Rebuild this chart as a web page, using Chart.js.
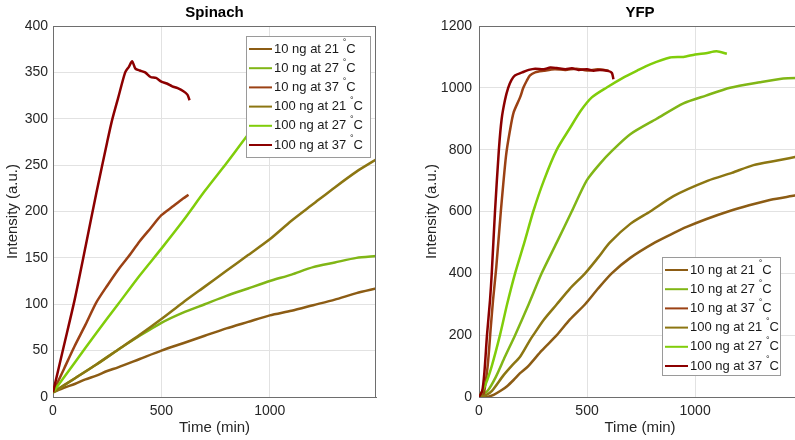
<!DOCTYPE html>
<html>
<head>
<meta charset="utf-8">
<script src="https://cdn.jsdelivr.net/npm/chart.js@4/dist/chart.umd.min.js"></script>
<style>
  html, body { margin: 0; padding: 0; background: #fff; overflow: hidden; width: 795px; height: 440px; }
  .box { position: absolute; top: 0; height: 440px; }
  #left { left: 0; width: 400px; }
  #right { left: 400px; width: 410px; }
</style>
</head>
<body>
<div class="box" id="left"><canvas id="spinach"></canvas></div>
<div class="box" id="right"><canvas id="yfp"></canvas></div>
<script>
// legend labels, same for both panels
const labels = ['10 ng at 21 °C', '10 ng at 27 °C', '10 ng at 37 °C', '100 ng at 21 °C', '100 ng at 27 °C', '100 ng at 37 °C'];
const colors = ['rgb(140,92,20)', 'rgb(128,182,22)', 'rgb(155,65,20)', 'rgb(140,118,18)', 'rgb(128,205,10)', 'rgb(140,0,0)'];
const xTicks = [0, 500, 1000];

// Spinach - time (min) / intensity (a.u.)
const spT10_21 = [0, 50, 100, 150, 200, 250, 300, 400, 500, 600, 700, 800, 900, 1000, 1100, 1200, 1300, 1400, 1490];
const spV10_21 = [5, 10, 14, 19, 23, 28, 32, 41, 50, 58, 66, 74, 81, 88, 93, 99, 105, 112, 117];
const spT10_27 = [0, 100, 200, 300, 400, 500, 600, 700, 800, 900, 1000, 1100, 1200, 1300, 1400, 1490];
const spV10_27 = [5, 20, 35, 51, 66, 80, 91, 100, 109, 117, 125, 132, 140, 145, 150, 152];
const spT10_37 = [0, 50, 100, 150, 200, 250, 300, 350, 400, 450, 500, 550, 600, 625];
const spV10_37 = [5, 30, 55, 78, 102, 120, 137, 152, 168, 182, 196, 205, 214, 218];
const spT100_21 = [0, 100, 200, 300, 400, 500, 600, 700, 800, 900, 1000, 1100, 1200, 1300, 1400, 1490];
const spV100_21 = [5, 20, 35, 51, 67, 84, 102, 119, 136, 153, 170, 190, 208, 226, 243, 256];
const spT100_27 = [0, 100, 200, 300, 400, 500, 600, 700, 800, 900, 1000, 1100];
const spV100_27 = [5, 37, 69, 100, 131, 160, 190, 222, 252, 283, 312, 340];
const spT100_37 = [0, 50, 100, 150, 200, 250, 272, 300, 333, 350, 365, 380, 400, 425, 450, 475, 500, 525, 550, 575, 600, 620, 630];
const spV100_37 = [5, 55, 105, 162, 220, 275, 298, 322, 350, 356, 362, 354, 352, 350, 345, 344, 340, 338, 335, 333, 330, 326, 320];

// YFP
const yfT10_21 = [0, 36, 70, 100, 130, 160, 190, 228, 290, 360, 420, 491, 550, 614, 700, 815, 900, 961, 1050, 1153, 1250, 1350, 1447, 1490];
const yfV10_21 = [0, 0, 8, 20, 35, 55, 77, 100, 150, 200, 250, 300, 350, 400, 450, 500, 530, 550, 575, 600, 620, 638, 650, 655];
const yfT10_27 = [0, 40, 78, 120, 167, 230, 290, 360, 429, 498, 560, 621, 700, 822, 946, 1050, 1162, 1300, 1408, 1490];
const yfV10_27 = [0, 20, 65, 130, 200, 300, 400, 500, 600, 700, 755, 800, 850, 900, 950, 975, 1000, 1018, 1030, 1032];
const yfT10_37 = [0, 20, 40, 55, 65, 80, 101, 125, 143, 160, 190, 205, 221, 236, 260, 300, 350, 400, 450, 500, 550, 600];
const yfV10_37 = [0, 5, 100, 230, 313, 420, 600, 780, 861, 920, 969, 1000, 1023, 1040, 1050, 1055, 1060, 1058, 1062, 1056, 1060, 1055];
const yfT100_21 = [0, 30, 60, 113, 150, 190, 236, 251, 300, 360, 420, 491, 550, 606, 700, 792, 900, 1060, 1170, 1270, 1380, 1490];
const yfV100_21 = [0, 5, 20, 70, 100, 130, 184, 200, 250, 300, 350, 400, 450, 500, 560, 600, 650, 700, 725, 750, 765, 780];
const yfT100_27 = [0, 30, 59, 97, 130, 167, 210, 251, 300, 360, 421, 470, 522, 591, 668, 730, 792, 884, 946, 1000, 1050, 1100, 1147];
const yfV100_27 = [0, 40, 100, 200, 300, 400, 500, 600, 700, 800, 870, 925, 969, 1001, 1033, 1055, 1076, 1098, 1100, 1108, 1112, 1118, 1110];
const yfT100_37 = [0, 15, 25, 37, 51, 59, 74, 92, 105, 120, 135, 150, 166, 200, 230, 260, 300, 330, 360, 400, 430, 460, 500, 530, 560, 600, 615, 622];
const yfV100_37 = [0, 20, 80, 200, 313, 400, 600, 800, 900, 960, 1000, 1025, 1040, 1050, 1058, 1062, 1060, 1066, 1064, 1060, 1063, 1058, 1060, 1055, 1058, 1054, 1048, 1028];

const FONT = '"Liberation Sans", Arial, sans-serif';

function pairs(t, v) {
  return t.map((x, i) => ({ x: x, y: v[i] }));
}

// title, top/right frame and in-plot legend
const framePlugin = {
  id: 'frame',
  afterDraw(chart, args, opts) {
    const ctx = chart.ctx;
    const a = chart.chartArea;
    ctx.save();
    ctx.strokeStyle = '#6e6e6e';
    ctx.lineWidth = 1;
    ctx.beginPath();
    ctx.moveTo(a.left, Math.round(a.top) + 0.5);
    ctx.lineTo(a.right, Math.round(a.top) + 0.5);
    ctx.moveTo(Math.round(a.right) - 0.5, a.top);
    ctx.lineTo(Math.round(a.right) - 0.5, a.bottom);
    ctx.stroke();

    ctx.fillStyle = '#000';
    ctx.font = 'bold 15px ' + FONT;
    ctx.textAlign = 'center';
    ctx.textBaseline = 'middle';
    ctx.fillText(opts.title, (a.left + a.right) / 2, 13);

    const L = opts.legend;
    ctx.fillStyle = '#fff';
    ctx.fillRect(L.x, L.y, L.w, L.h);
    ctx.strokeStyle = '#9a9a9a';
    ctx.strokeRect(L.x + 0.5, L.y + 0.5, L.w, L.h);
    chart.data.datasets.forEach((ds, i) => {
      const y = L.y + 13 + i * 19.2;
      ctx.strokeStyle = ds.borderColor;
      ctx.lineWidth = 2;
      ctx.beginPath();
      ctx.moveTo(L.x + 3, y);
      ctx.lineTo(L.x + 26, y);
      ctx.stroke();
      const parts = ds.label.split('°');
      ctx.fillStyle = '#1a1a1a';
      ctx.textAlign = 'left';
      ctx.font = '13px ' + FONT;
      let x = L.x + 28;
      ctx.fillText(parts[0], x, y);
      x += ctx.measureText(parts[0]).width;
      ctx.font = '9px ' + FONT;
      ctx.fillText('°', x, y - 6);
      x += ctx.measureText('°').width;
      ctx.font = '13px ' + FONT;
      ctx.fillText(parts[1], x, y);
    });
    ctx.restore();
  }
};

function makeChart(id, title, series, yMax, yStep, yWidth, yTitlePad, yTickPad, rightPad, legend) {
  const datasets = series.map((s, i) => ({
    label: labels[i],
    data: pairs(s[0], s[1]),
    borderColor: colors[i],
    backgroundColor: colors[i],
    borderWidth: 2.5,
    pointRadius: 0,
    tension: 0.25,
    order: 5 - i
  }));
  return new Chart(document.getElementById(id), {
    type: 'line',
    data: { datasets: datasets },
    options: {
      responsive: true,
      maintainAspectRatio: false,
      animation: false,
      layout: { padding: { top: 26, right: rightPad, bottom: 0, left: 0 } },
      plugins: {
        legend: { display: false },
        tooltip: { enabled: false },
        frame: { title: title, legend: legend }
      },
      scales: {
        x: {
          type: 'linear',
          min: 0,
          max: 1490,
          afterFit: s => { s.height = 43; },
          afterBuildTicks: s => { s.ticks = xTicks.map(v => ({ value: v })); },
          ticks: { padding: 6, color: '#262626', font: { family: FONT, size: 14 }, callback: v => String(v) },
          grid: { color: '#e2e2e2', drawTicks: false },
          border: { color: '#6e6e6e' },
          title: { display: true, text: 'Time (min)', color: '#262626', font: { family: FONT, size: 15 }, padding: { top: 0, bottom: 3 } }
        },
        y: {
          min: 0,
          max: yMax,
          afterFit: s => { s.width = yWidth; },
          ticks: { stepSize: yStep, padding: yTickPad, color: '#262626', font: { family: FONT, size: 14 }, callback: v => String(v) },
          grid: { color: '#e2e2e2', drawTicks: false },
          border: { color: '#6e6e6e' },
          title: { display: true, text: 'Intensity (a.u.)', color: '#262626', font: { family: FONT, size: 15 }, padding: { top: yTitlePad, bottom: 0 } }
        }
      }
    },
    plugins: [framePlugin]
  });
}

makeChart('spinach', 'Spinach', [
  [spT10_21, spV10_21], [spT10_27, spV10_27], [spT10_37, spV10_37],
  [spT100_21, spV100_21], [spT100_27, spV100_27], [spT100_37, spV100_37]
], 400, 50, 53, 4, 5, 24, { x: 246, y: 36, w: 124, h: 121 });

makeChart('yfp', 'YFP', [
  [yfT10_21, yfV10_21], [yfT10_27, yfV10_27], [yfT10_37, yfV10_37],
  [yfT100_21, yfV100_21], [yfT100_27, yfV100_27], [yfT100_37, yfV100_37]
], 1200, 200, 79, 23, 7, 9, { x: 262, y: 257, w: 118, h: 118 });
</script>
</body>
</html>
